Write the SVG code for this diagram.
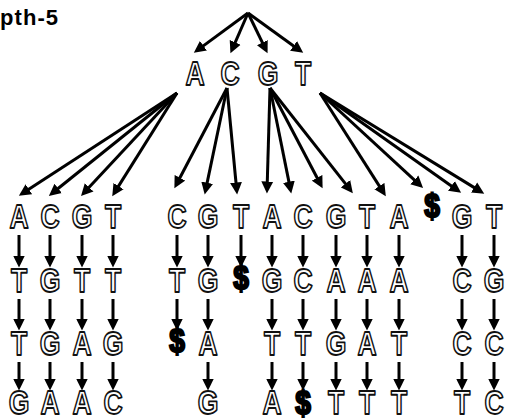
<svg xmlns="http://www.w3.org/2000/svg" width="508" height="419" viewBox="0 0 508 419">
  <style>
    .title { font-family: "Liberation Sans", Arial, sans-serif; font-weight: bold; font-size: 22px; fill: #000; }
    .b { font-family: "Liberation Sans", Arial, sans-serif; font-weight: bold; font-size: 34px; text-anchor: middle; fill: #fff; stroke: #111; stroke-width: 1.8px; stroke-linejoin: round; }
    .d { font-family: "Liberation Sans", Arial, sans-serif; font-weight: bold; font-size: 33px; text-anchor: middle; fill: #000; stroke: #000; stroke-width: 2.2px; }
    .edges line { stroke: #000; stroke-width: 3px; marker-end: url(#ah); }
  </style>
  <defs>
    <marker id="ah" markerUnits="userSpaceOnUse" markerWidth="13" markerHeight="13" viewBox="0 -6 12 12" refX="6" refY="0" orient="auto">
      <path d="M0,-5.5 L11,0 L0,5.5 Z" fill="#000"/>
    </marker>
  </defs>
  <rect width="508" height="419" fill="#fff"/>
  <text class="title" x="0" y="25" textLength="58">pth-5</text>

  <!-- connectors -->
  <g class="edges">
    <!-- root fan -->
    <line x1="248" y1="13" x2="198.2" y2="49.6"/>
    <line x1="248" y1="13" x2="232.6" y2="48.3"/>
    <line x1="248" y1="13" x2="265.2" y2="48.4"/>
    <line x1="248" y1="13" x2="298.8" y2="49.7"/>
    <!-- from A -->
    <line x1="177" y1="93" x2="23.4" y2="192.8"/>
    <line x1="177" y1="93" x2="53.1" y2="192.5"/>
    <line x1="177" y1="93" x2="84.7" y2="192.1"/>
    <line x1="177" y1="93" x2="115.1" y2="191.6"/>
    <!-- from C -->
    <line x1="227" y1="88" x2="176.9" y2="183.5"/>
    <line x1="227" y1="88" x2="205.8" y2="189.1"/>
    <line x1="227" y1="88" x2="236.6" y2="189"/>
    <!-- from G -->
    <line x1="270" y1="88" x2="267.1" y2="188"/>
    <line x1="270" y1="88" x2="290.2" y2="188.1"/>
    <line x1="270" y1="88" x2="320.1" y2="183.5"/>
    <line x1="270" y1="88" x2="349.5" y2="188.9"/>
    <!-- from T -->
    <line x1="320" y1="93" x2="382.9" y2="191.6"/>
    <line x1="320" y1="93" x2="419.1" y2="184.3"/>
    <line x1="320" y1="93" x2="456.7" y2="189.7"/>
    <line x1="320" y1="93" x2="479.6" y2="190.9"/>
    <!-- chains: row 1 to row 2 -->
    <line x1="19" y1="235" x2="19" y2="262"/>
    <line x1="50" y1="235" x2="50" y2="262"/>
    <line x1="82" y1="235" x2="82" y2="262"/>
    <line x1="113" y1="235" x2="113" y2="262"/>
    <line x1="177" y1="235" x2="177" y2="262"/>
    <line x1="208" y1="235" x2="208" y2="262"/>
    <line x1="241" y1="235" x2="241" y2="262"/>
    <line x1="272" y1="235" x2="272" y2="262"/>
    <line x1="303" y1="235" x2="303" y2="262"/>
    <line x1="336" y1="235" x2="336" y2="262"/>
    <line x1="367" y1="235" x2="367" y2="262"/>
    <line x1="399" y1="235" x2="399" y2="262"/>
    <line x1="462" y1="235" x2="462" y2="262"/>
    <line x1="494" y1="235" x2="494" y2="262"/>
    <!-- row 2 to row 3 -->
    <line x1="19" y1="299" x2="19" y2="325"/>
    <line x1="50" y1="299" x2="50" y2="325"/>
    <line x1="82" y1="299" x2="82" y2="325"/>
    <line x1="113" y1="299" x2="113" y2="325"/>
    <line x1="177" y1="299" x2="177" y2="325"/>
    <line x1="208" y1="299" x2="208" y2="325"/>
    <line x1="272" y1="299" x2="272" y2="325"/>
    <line x1="303" y1="299" x2="303" y2="325"/>
    <line x1="336" y1="299" x2="336" y2="325"/>
    <line x1="367" y1="299" x2="367" y2="325"/>
    <line x1="399" y1="299" x2="399" y2="325"/>
    <line x1="462" y1="299" x2="462" y2="325"/>
    <line x1="494" y1="299" x2="494" y2="325"/>
    <!-- row 3 to row 4 -->
    <line x1="19" y1="362" x2="19" y2="385"/>
    <line x1="50" y1="362" x2="50" y2="385"/>
    <line x1="82" y1="362" x2="82" y2="385"/>
    <line x1="113" y1="362" x2="113" y2="385"/>
    <line x1="208" y1="362" x2="208" y2="385"/>
    <line x1="272" y1="362" x2="272" y2="385"/>
    <line x1="303" y1="362" x2="303" y2="385"/>
    <line x1="336" y1="362" x2="336" y2="385"/>
    <line x1="367" y1="362" x2="367" y2="385"/>
    <line x1="399" y1="362" x2="399" y2="385"/>
    <line x1="462" y1="362" x2="462" y2="385"/>
    <line x1="494" y1="362" x2="494" y2="385"/>
  </g>

  <!-- first level -->
  <g id="n-A"><text class="b" transform="translate(195,85) scale(0.78,1)">A</text></g>
  <g id="n-C"><text class="b" transform="translate(230,85) scale(0.78,1)">C</text></g>
  <g id="n-G"><text class="b" transform="translate(268,85) scale(0.78,1)">G</text></g>
  <g id="n-T"><text class="b" transform="translate(303,85) scale(0.78,1)">T</text></g>

  <!-- A subtree -->
  <g id="n-AA"><text class="b" transform="translate(19,228) scale(0.78,1)">A</text></g>
  <g id="n-AAT"><text class="b" transform="translate(19,292) scale(0.78,1)">T</text></g>
  <g id="n-AATT"><text class="b" transform="translate(19,355) scale(0.78,1)">T</text></g>
  <g id="n-AATTG"><text class="b" transform="translate(19,414) scale(0.78,1)">G</text></g>

  <g id="n-AC"><text class="b" transform="translate(50,228) scale(0.78,1)">C</text></g>
  <g id="n-ACG"><text class="b" transform="translate(50,292) scale(0.78,1)">G</text></g>
  <g id="n-ACGG"><text class="b" transform="translate(50,355) scale(0.78,1)">G</text></g>
  <g id="n-ACGGA"><text class="b" transform="translate(50,414) scale(0.78,1)">A</text></g>

  <g id="n-AG"><text class="b" transform="translate(82,228) scale(0.78,1)">G</text></g>
  <g id="n-AGT"><text class="b" transform="translate(82,292) scale(0.78,1)">T</text></g>
  <g id="n-AGTA"><text class="b" transform="translate(82,355) scale(0.78,1)">A</text></g>
  <g id="n-AGTAA"><text class="b" transform="translate(82,414) scale(0.78,1)">A</text></g>

  <g id="n-AT"><text class="b" transform="translate(113,228) scale(0.78,1)">T</text></g>
  <g id="n-ATT"><text class="b" transform="translate(113,292) scale(0.78,1)">T</text></g>
  <g id="n-ATTG"><text class="b" transform="translate(113,355) scale(0.78,1)">G</text></g>
  <g id="n-ATTGC"><text class="b" transform="translate(113,414) scale(0.78,1)">C</text></g>

  <!-- C subtree -->
  <g id="n-CC"><text class="b" transform="translate(177,228) scale(0.78,1)">C</text></g>
  <g id="n-CCT"><text class="b" transform="translate(177,292) scale(0.78,1)">T</text></g>
  <g id="n-CCT-end"><text class="d" transform="translate(177,352) scale(0.85,1)">$</text></g>

  <g id="n-CG"><text class="b" transform="translate(208,228) scale(0.78,1)">G</text></g>
  <g id="n-CGG"><text class="b" transform="translate(208,292) scale(0.78,1)">G</text></g>
  <g id="n-CGGA"><text class="b" transform="translate(208,355) scale(0.78,1)">A</text></g>
  <g id="n-CGGAG"><text class="b" transform="translate(208,414) scale(0.78,1)">G</text></g>

  <g id="n-CT"><text class="b" transform="translate(241,228) scale(0.78,1)">T</text></g>
  <g id="n-CT-end"><text class="d" transform="translate(241,289) scale(0.85,1)">$</text></g>

  <!-- G subtree -->
  <g id="n-GA"><text class="b" transform="translate(272,228) scale(0.78,1)">A</text></g>
  <g id="n-GAG"><text class="b" transform="translate(272,292) scale(0.78,1)">G</text></g>
  <g id="n-GAGT"><text class="b" transform="translate(272,355) scale(0.78,1)">T</text></g>
  <g id="n-GAGTA"><text class="b" transform="translate(272,414) scale(0.78,1)">A</text></g>

  <g id="n-GC"><text class="b" transform="translate(303,228) scale(0.78,1)">C</text></g>
  <g id="n-GCC"><text class="b" transform="translate(303,292) scale(0.78,1)">C</text></g>
  <g id="n-GCCT"><text class="b" transform="translate(303,355) scale(0.78,1)">T</text></g>
  <g id="n-GCCT-end"><text class="d" transform="translate(303,414) scale(0.85,1)">$</text></g>

  <g id="n-GG"><text class="b" transform="translate(336,228) scale(0.78,1)">G</text></g>
  <g id="n-GGA"><text class="b" transform="translate(336,292) scale(0.78,1)">A</text></g>
  <g id="n-GGAG"><text class="b" transform="translate(336,355) scale(0.78,1)">G</text></g>
  <g id="n-GGAGT"><text class="b" transform="translate(336,414) scale(0.78,1)">T</text></g>

  <g id="n-GT"><text class="b" transform="translate(367,228) scale(0.78,1)">T</text></g>
  <g id="n-GTA"><text class="b" transform="translate(367,292) scale(0.78,1)">A</text></g>
  <g id="n-GTAA"><text class="b" transform="translate(367,355) scale(0.78,1)">A</text></g>
  <g id="n-GTAAT"><text class="b" transform="translate(367,414) scale(0.78,1)">T</text></g>

  <!-- T subtree -->
  <g id="n-TA"><text class="b" transform="translate(399,228) scale(0.78,1)">A</text></g>
  <g id="n-TAA"><text class="b" transform="translate(399,292) scale(0.78,1)">A</text></g>
  <g id="n-TAAT"><text class="b" transform="translate(399,355) scale(0.78,1)">T</text></g>
  <g id="n-TAATT"><text class="b" transform="translate(399,414) scale(0.78,1)">T</text></g>

  <g id="n-T-end"><text class="d" transform="translate(432,217) scale(0.85,1)">$</text></g>

  <g id="n-TG"><text class="b" transform="translate(462,228) scale(0.78,1)">G</text></g>
  <g id="n-TGC"><text class="b" transform="translate(462,292) scale(0.78,1)">C</text></g>
  <g id="n-TGCC"><text class="b" transform="translate(462,355) scale(0.78,1)">C</text></g>
  <g id="n-TGCCT"><text class="b" transform="translate(462,414) scale(0.78,1)">T</text></g>

  <g id="n-TT"><text class="b" transform="translate(494,228) scale(0.78,1)">T</text></g>
  <g id="n-TTG"><text class="b" transform="translate(494,292) scale(0.78,1)">G</text></g>
  <g id="n-TTGC"><text class="b" transform="translate(494,355) scale(0.78,1)">C</text></g>
  <g id="n-TTGCC"><text class="b" transform="translate(494,414) scale(0.78,1)">C</text></g>
</svg>
